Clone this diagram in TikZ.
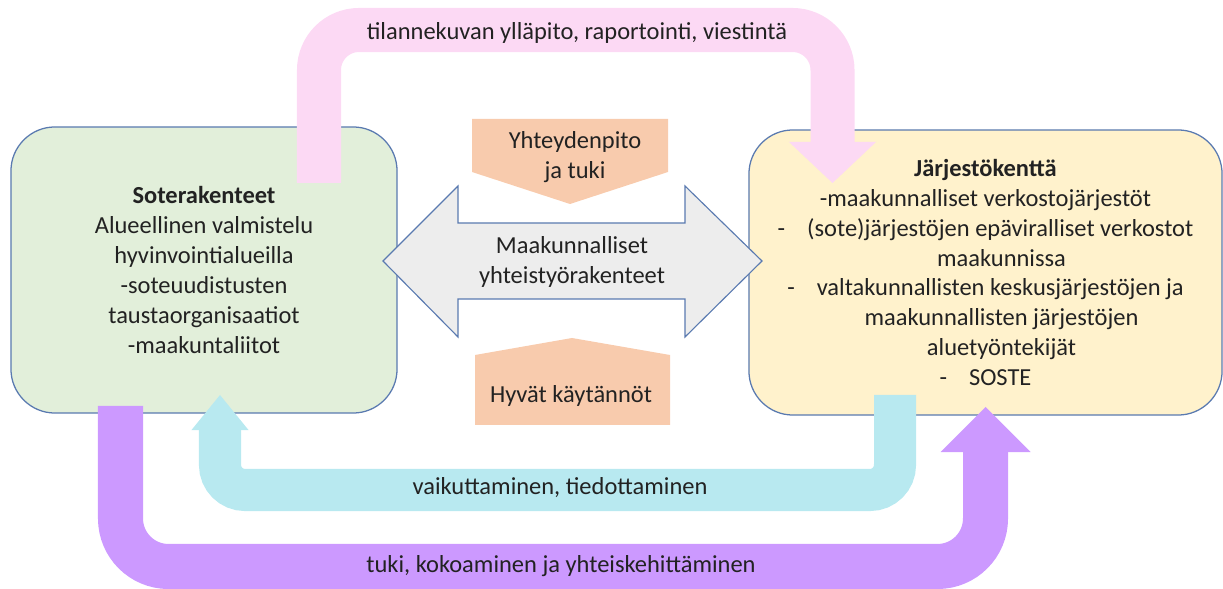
\documentclass[tikz,border=0pt]{standalone}
\usepackage{fontspec}
\setmainfont{Carlito}
\usepackage{tikz}
\usetikzlibrary{
    arrows.meta,
    positioning
}
\definecolor{boxline}{HTML}{5A7AB0}
\definecolor{greenfill}{HTML}{E2EFDA}
\definecolor{yellowfill}{HTML}{FFF2CC}
\definecolor{pinkband}{HTML}{FCD9F4}
\definecolor{cyanband}{HTML}{B8E9F0}
\definecolor{purpleband}{HTML}{CC99FF}
\definecolor{orangefill}{HTML}{F8CBAD}
\definecolor{grayfill}{HTML}{EDEDED}
\definecolor{textcol}{HTML}{222222}

\begin{document}
\begin{tikzpicture}[x=0.025cm, y=-0.025cm,
                    every node/.style={font={\fontsize{17.4}{21.3}\selectfont}, text=textcol, align=center},
                    bigbox/.style={draw=boxline, line width=0.9pt, rounded corners=1.1cm, inner sep=0pt},
                    pinkarrow/.style={draw=pinkband, line width=1.1cm, rounded corners=1cm, -{Triangle[length=1.025cm, width=2.175cm, line width=0pt]}},
                    cyanarrow/.style={draw=cyanband, line width=1.05cm, rounded corners=0.625cm, -{Triangle[length=0.875cm, width=1.425cm, line width=0pt]}},
                    purplearrow/.style={draw=purpleband, line width=1.125cm, rounded corners=1.2cm, -{Triangle[length=1.125cm, width=2.25cm, line width=0pt]}},
                    tagshape/.style={fill=orangefill, draw=none},
                    coopshape/.style={fill=grayfill, draw=boxline, line width=0.8pt, line join=miter}]
                        \useasboundingbox (0, 0) rectangle (1223, 589);
                        \node[bigbox, fill=greenfill, minimum width=9.65cm, minimum height=7.15cm] (sote) at (204, 270) {\textbf{Soterakenteet}\\Alueellinen valmistelu\\hyvinvointialueilla\\-soteuudistusten\\taustaorganisaatiot\\-maakuntaliitot};
                        \node[bigbox, fill=yellowfill, minimum width=11.825cm, minimum height=7.125cm] (jarjesto) at (985.5, 272.5) {\textbf{Järjestökenttä}\\-maakunnalliset verkostojärjestöt\\-\hspace{0.55cm}(sote)järjestöjen epäviralliset verkostot\\\hspace*{0.8cm}maakunnissa\\-\hspace{0.55cm}valtakunnallisten keskusjärjestöjen ja\\\hspace*{0.8cm}maakunnallisten järjestöjen\\\hspace*{0.8cm}aluetyöntekijät\\-\hspace{0.55cm}SOSTE};
                        \coordinate (pinkstart) at (319, 183);
                        \coordinate (pinkturn) at (575, 30);
                        \coordinate (pinkend) at (832.5, 183);
                        \coordinate (cyanstart) at (895, 395);
                        \coordinate (cyanturn) at (560, 490);
                        \coordinate (cyanend) at (220, 395);
                        \coordinate (purplestart) at (120.5, 406);
                        \coordinate (purpleturn) at (560, 566.5);
                        \coordinate (purpleend) at (985.5, 407);
                        \draw[pinkarrow] (pinkstart) |- (pinkturn) -| (pinkend);
                        \draw[cyanarrow] (cyanstart) |- (cyanturn) -| (cyanend);
                        \draw[purplearrow] (purplestart) |- (purpleturn) -| (purpleend);
                        \node (pinklabel) at (577, 33) {tilannekuvan ylläpito, raportointi, viestintä};
                        \node (cyanlabel) at (560, 488) {vaikuttaminen, tiedottaminen};
                        \node (purplelabel) at (561, 566) {tuki, kokoaminen ja yhteiskehittäminen};
                        \draw[coopshape]
                        (383, 261) -- (458, 186) -- (458, 223) -- (685, 223) -- (685, 186) -- (762, 261)
                        -- (685, 337) -- (685, 299) -- (458, 299) -- (458, 337) -- cycle;
                        \node (coop) at (572, 262) {Maakunnalliset\\yhteistyörakenteet};
                        \fill[tagshape] (472, 119) -- (668, 119) -- (668, 172) -- (570, 204) -- (472, 172) -- cycle;
                        \node (yhteys) at (575, 157) {Yhteydenpito\\ja tuki};
                        \fill[tagshape] (475, 425) -- (670, 425) -- (670, 355) -- (572, 338) -- (475, 355) -- cycle;
                        \node (hyvat) at (571, 396) {Hyvät käytännöt};
                    \end{tikzpicture}
\end{document}
